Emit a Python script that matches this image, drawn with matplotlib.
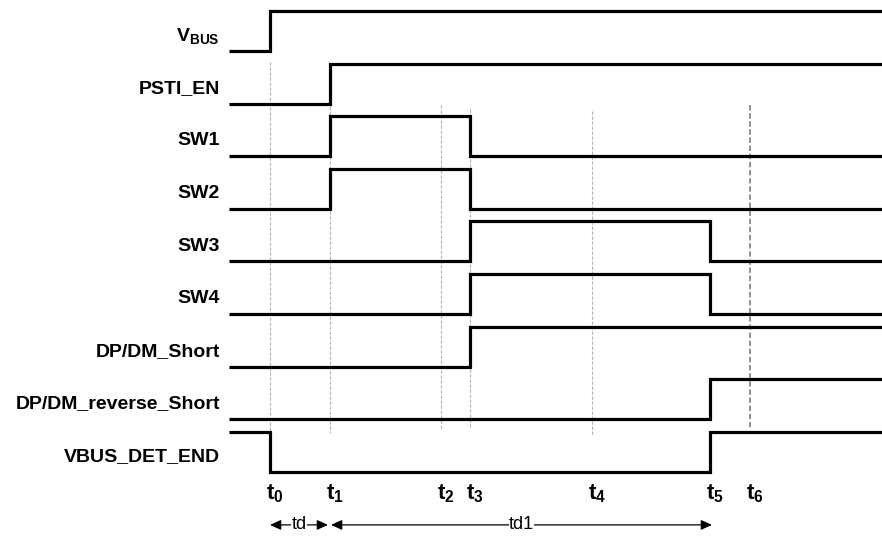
import matplotlib
matplotlib.use("Agg")
import matplotlib.pyplot as plt

plt.rcParams["font.family"] = ["Liberation Sans", "DejaVu Sans"]
plt.rcParams["mathtext.fontset"] = "custom"
plt.rcParams["mathtext.rm"] = "Liberation Sans"
plt.rcParams["mathtext.bf"] = "Liberation Sans:bold"

# ---- timing data ----
# event times (t0 = 0), same horizontal units throughout
event_names = ["t_0", "t_1", "t_2", "t_3", "t_4", "t_5", "t_6"]
event_times = [0, 60, 171, 200, 322, 440, 480]

signals = ["$\\mathbf{V_{BUS}}$", "PSTI_EN", "SW1", "SW2", "SW3", "SW4",
           "DP/DM_Short", "DP/DM_reverse_Short", "VBUS_DET_END"]
start_level = [0, 0, 0, 0, 0, 0, 0, 0, 1]
# indices into event_times where each signal toggles
toggles = [[0], [1], [1, 3], [1, 3], [3, 5], [3, 5], [3], [5], [0, 5]]

# dashed guide lines: event index, top row, bottom row
guides = [(0, 0.21, 7.26), (1, 1.05, 7.26), (2, 1.03, 7.21),
          (3, 1.10, 7.17), (4, 1.14, 7.30), (6, 1.03, 7.21)]

T_START, T_END = -41, 640
HIGH = 0.76            # high level height, in row units

fig = plt.figure(figsize=(8.82, 5.37), dpi=100)
ax = fig.add_axes([0, 0, 1, 1])
ax.set_xlim(-270, 612)
ax.set_ylim(9.24, -0.97)
ax.axis("off")

# guide lines behind the waveforms
for k, top, bot in guides:
    col = "#8a8a8a" if k == 6 else "#b4b4b4"
    lw = 1.3 if k == 6 else 0.8
    ax.plot([event_times[k]] * 2, [top, bot], color=col, lw=lw,
            ls=(0, (3, 1.5)), zorder=1)

# waveforms
for row, (name, lvl, tg) in enumerate(zip(signals, start_level, toggles)):
    xs, ys = [T_START], [lvl]
    for k in tg:
        t = event_times[k]
        xs += [t, t]
        ys += [lvl, 1 - lvl]
        lvl = 1 - lvl
    xs.append(T_END)
    ys.append(lvl)
    ax.plot(xs, [row - HIGH * v for v in ys], color="black", lw=2.3,
            solid_joinstyle="miter", solid_capstyle="butt", zorder=3)
    ax.text(-50, row - 0.29, name, ha="right", va="center",
            fontsize=14, fontweight="bold", zorder=4)

# time labels
for name, t in zip(event_names, event_times):
    ax.text(t - 4, 8.42, f"$\\mathbf{{{name}}}$", ha="left", va="center",
            fontsize=16, zorder=4)

# delay arrows
arrow_y = 9.01
spans = [("td", event_times[0], event_times[1] - 2),
         ("td1", event_times[1] + 1, event_times[5] + 2)]
for label, a, b in spans:
    ax.annotate("", xy=(b, arrow_y), xytext=(a, arrow_y),
                arrowprops=dict(arrowstyle="<|-|>,head_length=0.55,head_width=0.25",
                                color="black", lw=0.9, shrinkA=0, shrinkB=0,
                                mutation_scale=12))
    ax.text((a + b) / 2, arrow_y, label, ha="center", va="center",
            fontsize=13, zorder=5,
            bbox=dict(facecolor="white", edgecolor="none", pad=0.3))

fig.savefig("out.png", dpi=100, facecolor="white")
